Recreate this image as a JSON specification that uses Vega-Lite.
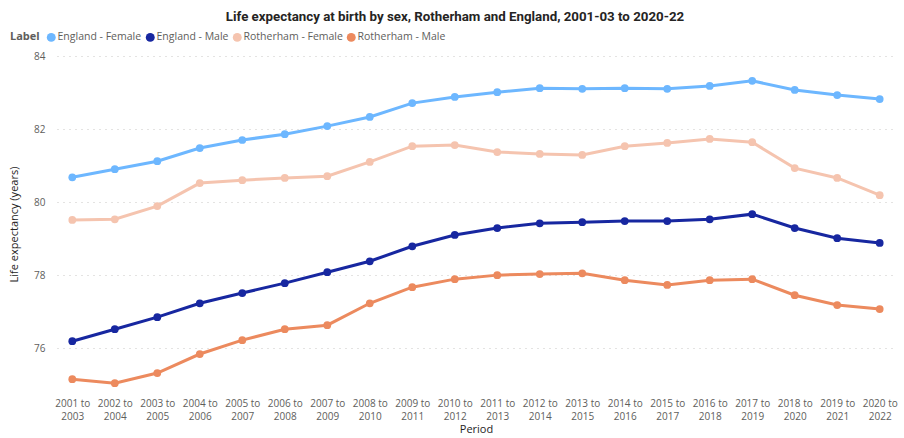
{
  "$schema": "https://vega.github.io/schema/vega-lite/v6.json",
  "width": 838,
  "height": 336,
  "autosize": {"type": "none"},
  "padding": {"left": 57, "top": 56, "right": 9, "bottom": 46},
  "background": "white",
  "title": {
    "text": "Life expectancy at birth by sex, Rotherham and England, 2001-03 to 2020-22",
    "font": "Roboto",
    "fontSize": 13.3,
    "fontWeight": "bold",
    "color": "#252423",
    "anchor": "middle",
    "dx": -21,
    "offset": 9
  },
  "config": {
    "font": "Open Sans",
    "view": {"stroke": null}
  },
  "datasets": {
    "le": [
      {"Period": "2001 to 2003", "EF": 80.68, "EM": 76.19, "RF": 79.51, "RM": 75.15},
      {"Period": "2002 to 2004", "EF": 80.90, "EM": 76.52, "RF": 79.53, "RM": 75.04},
      {"Period": "2003 to 2005", "EF": 81.12, "EM": 76.85, "RF": 79.89, "RM": 75.32},
      {"Period": "2004 to 2006", "EF": 81.48, "EM": 77.23, "RF": 80.52, "RM": 75.84},
      {"Period": "2005 to 2007", "EF": 81.70, "EM": 77.51, "RF": 80.60, "RM": 76.22},
      {"Period": "2006 to 2008", "EF": 81.86, "EM": 77.78, "RF": 80.66, "RM": 76.52},
      {"Period": "2007 to 2009", "EF": 82.08, "EM": 78.08, "RF": 80.71, "RM": 76.63},
      {"Period": "2008 to 2010", "EF": 82.33, "EM": 78.38, "RF": 81.10, "RM": 77.23},
      {"Period": "2009 to 2011", "EF": 82.71, "EM": 78.79, "RF": 81.53, "RM": 77.67},
      {"Period": "2010 to 2012", "EF": 82.88, "EM": 79.10, "RF": 81.56, "RM": 77.89},
      {"Period": "2011 to 2013", "EF": 83.01, "EM": 79.29, "RF": 81.37, "RM": 78.00},
      {"Period": "2012 to 2014", "EF": 83.12, "EM": 79.42, "RF": 81.32, "RM": 78.03},
      {"Period": "2013 to 2015", "EF": 83.10, "EM": 79.45, "RF": 81.29, "RM": 78.05},
      {"Period": "2014 to 2016", "EF": 83.12, "EM": 79.48, "RF": 81.53, "RM": 77.86},
      {"Period": "2015 to 2017", "EF": 83.10, "EM": 79.48, "RF": 81.62, "RM": 77.73},
      {"Period": "2016 to 2018", "EF": 83.18, "EM": 79.53, "RF": 81.73, "RM": 77.86},
      {"Period": "2017 to 2019", "EF": 83.32, "EM": 79.67, "RF": 81.64, "RM": 77.89},
      {"Period": "2018 to 2020", "EF": 83.07, "EM": 79.29, "RF": 80.93, "RM": 77.45},
      {"Period": "2019 to 2021", "EF": 82.93, "EM": 79.01, "RF": 80.66, "RM": 77.18},
      {"Period": "2020 to 2022", "EF": 82.82, "EM": 78.88, "RF": 80.19, "RM": 77.07}
    ]
  },
  "data": {"name": "le"},
  "transform": [
    {"fold": ["EF", "EM", "RF", "RM"], "as": ["Key", "Value"]},
    {"lookup": "Key", "from": {"data": {"values": [
      {"Key": "EF", "Label": "England - Female"},
      {"Key": "EM", "Label": "England - Male"},
      {"Key": "RF", "Label": "Rotherham - Female"},
      {"Key": "RM", "Label": "Rotherham - Male"}
    ]}, "key": "Key", "fields": ["Label"]}}
  ],
  "encoding": {
    "x": {
      "field": "Period",
      "type": "ordinal",
      "scale": {"type": "point", "padding": 0.36},
      "axis": {
        "title": "Period",
        "titleFont": "Open Sans",
        "titleFontSize": 11,
        "titleFontWeight": "normal",
        "titleColor": "#252423",
        "titlePadding": 2,
        "labelAngle": 0,
        "labelExpr": "[slice(datum.label,0,7), slice(datum.label,8)]",
        "labelFontSize": 10,
        "labelColor": "#605E5C",
        "labelLineHeight": 13,
        "labelPadding": 6,
        "domain": false,
        "ticks": false,
        "grid": false
      }
    },
    "y": {
      "field": "Value",
      "type": "quantitative",
      "scale": {"domain": [74.8, 84], "nice": false, "zero": false},
      "axis": {
        "title": "Life expectancy (years)",
        "titleFontSize": 11,
        "titleFontWeight": "normal",
        "titleColor": "#252423",
        "titlePadding": 14,
        "values": [76, 78, 80, 82, 84],
        "labelFontSize": 10,
        "labelColor": "#605E5C",
        "labelPadding": 12,
        "domain": false,
        "ticks": false,
        "grid": true,
        "gridColor": "#C8C6C4",
        "gridDash": [1, 5],
        "gridWidth": 1
      }
    },
    "color": {
      "field": "Label",
      "type": "nominal",
      "scale": {
        "domain": ["England - Female", "England - Male", "Rotherham - Female", "Rotherham - Male"],
        "range": ["#6DB7FF", "#1727A0", "#F5C4AF", "#EC8A5E"]
      },
      "legend": {
        "orient": "none",
        "legendX": -47,
        "legendY": -24,
        "direction": "horizontal",
        "title": "Label",
        "titleOrient": "left",
        "titleFontSize": 11,
        "titleFontWeight": "bold",
        "titleColor": "#605E5C",
        "titlePadding": 6,
        "labelFontSize": 10.5,
        "labelColor": "#605E5C",
        "labelOffset": 1,
        "symbolType": "circle",
        "symbolSize": 80,
        "symbolStrokeWidth": 0,
        "columnPadding": 3
      }
    }
  },
  "layer": [
    {"mark": {"type": "line", "strokeWidth": 3}},
    {"mark": {"type": "point", "filled": true, "size": 60, "opacity": 1}}
  ]
}
